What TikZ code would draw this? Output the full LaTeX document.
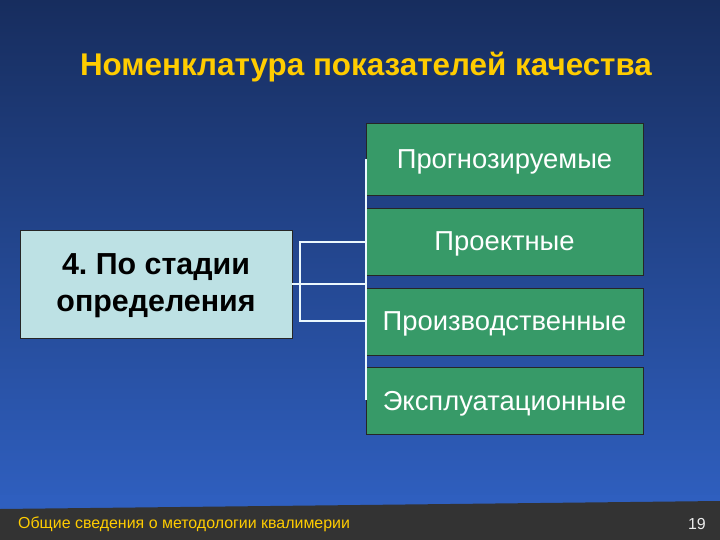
\documentclass[tikz,border=0pt]{standalone}
\usepackage{fontspec}
\setmainfont{Liberation Sans}
\frenchspacing
\definecolor{bgtop}{HTML}{172D5E}
\definecolor{bgbot}{HTML}{2F5FBF}
\definecolor{boxgreen}{HTML}{379A68}
\definecolor{boxcyan}{HTML}{BDE1E4}
\definecolor{titleyellow}{HTML}{FFCC00}
\definecolor{footbar}{HTML}{333333}
\tikzset{
  greenbox/.style={draw=black!85, line width=0.8pt, fill=boxgreen, text=white,
    minimum width=277bp, minimum height=68bp, inner sep=0pt, text depth=0pt,
    font=\fontsize{27.5}{32}\selectfont},
  mainbox/.style={draw=black!85, line width=0.8pt, fill=boxcyan, text=black,
    minimum width=272bp, minimum height=108bp, inner sep=0pt, align=center,
    font=\fontsize{30.5}{37}\selectfont\bfseries},
  conn/.style={draw=white!92!cyan, line width=1.6pt}
}
\begin{document}
\begin{tikzpicture}[x=1bp,y=-1bp]
\useasboundingbox (0,0) rectangle (720,540);
\shade[top color=bgtop, bottom color=bgbot] (0,0) rectangle (720,505);
\fill[bgbot] (0,495) rectangle (720,510);
\fill[footbar] (0,509) -- (720,501) -- (720,540) -- (0,540) -- cycle;
\node[text=titleyellow, font=\fontsize{31.5}{36}\selectfont\bfseries] (title) at (366,67) {Номенклатура показателей качества};
\node[mainbox] (main) at (156,284) {};
\node[align=center, font=\fontsize{30.5}{37}\selectfont\bfseries, text=black] (maintext) at (156,286) {4. По стадии\\определения};
\node[greenbox, minimum height=72bp] (b1) at (504.5,159) {Прогнозируемые};
\node[greenbox, minimum height=67bp] (b2) at (504.5,241.5) {Проектные};
\node[greenbox, minimum height=67bp] (b3) at (504.5,321.5) {Производственные};
\node[greenbox, minimum height=67bp] (b4) at (504.5,400.5) {Эксплуатационные};
\coordinate (vtop) at (366,159);
\coordinate (vbot) at (366,400);
\coordinate (rl) at (300,242);
\coordinate (rb) at (300,321);
\draw[conn] (vtop) -- (vbot);
\draw[conn] (main.east) -- (main.east -| b2.west);
\draw[conn] (b2.west |- rl) -- (rl) -- (rb) -- (b3.west |- rb);
\node[anchor=west, inner sep=0pt, text=titleyellow, font=\fontsize{16}{18}\selectfont] (foot) at (18,524) {Общие сведения о методологии квалимерии};
\node[anchor=east, inner sep=0pt, text=white!85!gray, font=\fontsize{16}{18}\selectfont] (num) at (706,524) {19};
\end{tikzpicture}
\end{document}
